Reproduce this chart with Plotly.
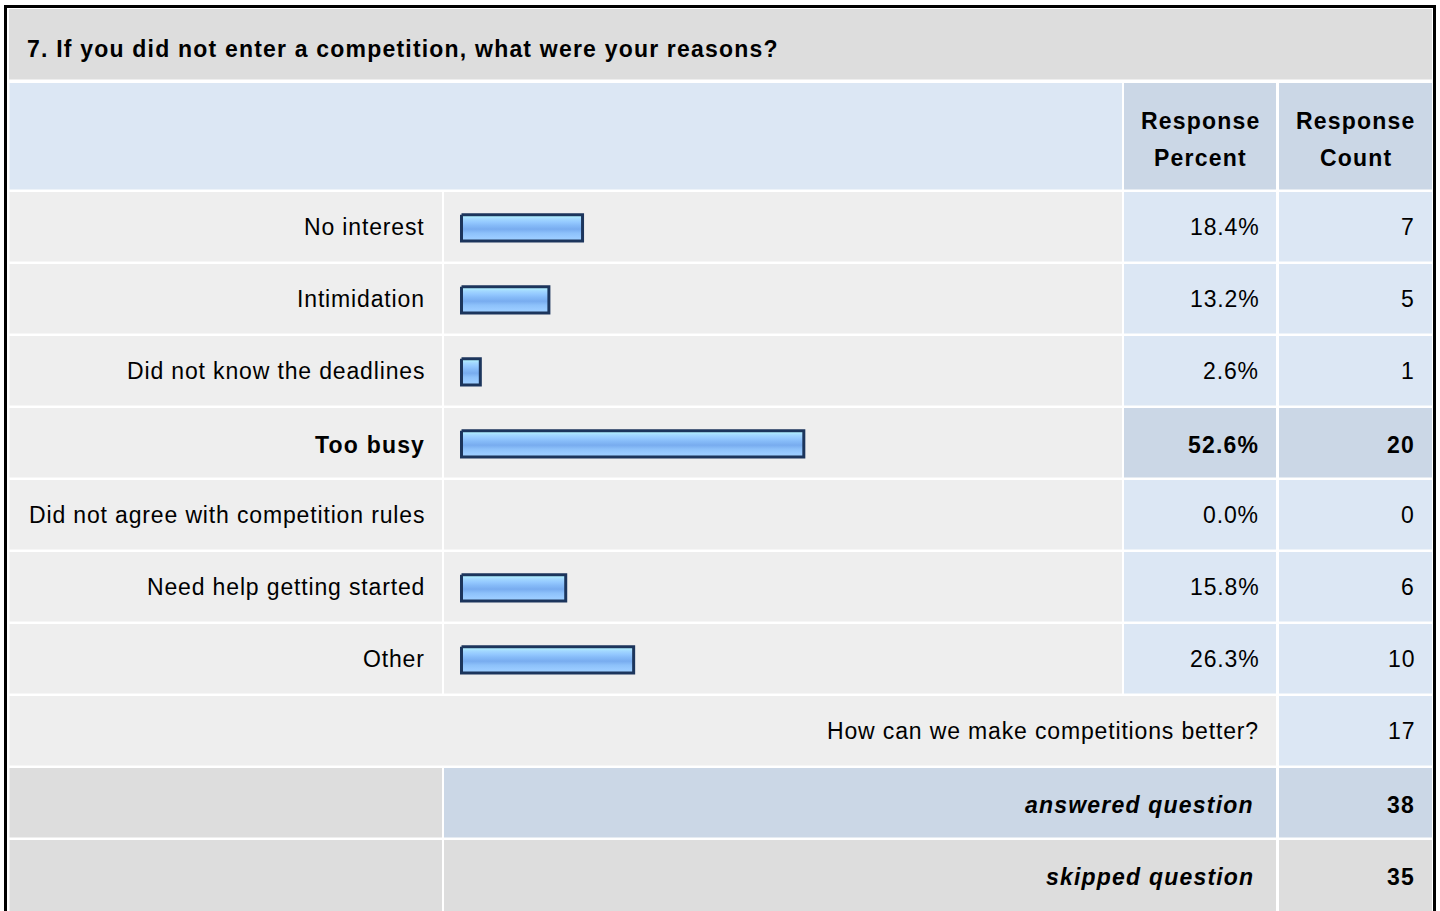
import plotly.graph_objects as go

# ---------------- data ----------------
question = "7. If you did not enter a competition, what were your reasons?"
categories = ["No interest", "Intimidation", "Did not know the deadlines", "Too busy",
              "Did not agree with competition rules", "Need help getting started", "Other"]
percents = [18.4, 13.2, 2.6, 52.6, 0.0, 15.8, 26.3]
counts = [7, 5, 1, 20, 0, 6, 10]
header_percent = ["Response", "Percent"]
header_count = ["Response", "Count"]
open_text_label = "How can we make competitions better?"
open_text_count = 17
answered_label = "answered question"
answered_count = 38
skipped_label = "skipped question"
skipped_count = 35

# ---------------- layout constants (pixels) ----------------
W, H = 1440, 911
ROW0, PITCH, ROWH = 192.0, 72.0, 69.5
C_LABEL = (9.5, 442.0)
C_BAR = (444.0, 1122.0)
C_PCT = (1124.0, 1276.0)
C_CNT = (1279.0, 1432.0)
BAR_ZERO_PX, PX_PER_PCT = 463.5, 6.47

GRAY_TITLE = "#DDDDDD"
ROW_BG = "#EEEEEE"
BLUE_LIGHT = "#DCE7F4"
BLUE_DARK = "#CBD7E6"
FONT = "Liberation Sans, Arial, sans-serif"
FS = 23
SP_REG = 0.85
SP_BOLD = 1.2
BOLD_DY = 2.0  # px: bold text sits slightly lower in the reference

shapes = []
annotations = []


def rect(x0, x1, y0, y1, color):
    shapes.append(dict(type="rect", xref="x", yref="y", x0=x0, x1=x1, y0=y0, y1=y1,
                       fillcolor=color, line=dict(width=0), layer="below"))


def txt(text, x, y, xanchor, bold=False, italic=False, yref="y", size=FS):
    sp = SP_BOLD if bold else SP_REG
    t = f'<span style="letter-spacing:{sp}px">{text}</span>'
    if italic:
        t = f"<i>{t}</i>"
    if bold:
        t = f"<b>{t}</b>"
    xs = x + (2 if xanchor == "right" else (sp / 2 if xanchor == "center" else 0))
    if bold:
        y = y + (BOLD_DY / PITCH if yref == "y2" else BOLD_DY)
    annotations.append(dict(text=t, x=xs, y=y, xref="x", yref=yref, xanchor=xanchor,
                            yanchor="middle", showarrow=False,
                            font=dict(family=FONT, size=size, color="#000000")))


def row_top(i):
    return ROW0 + PITCH * i


# title row
rect(9.0, 1432.0, 9.0, 79.5, GRAY_TITLE)
txt(question, 25, 46.5, "left", bold=True)

# header row
rect(9.5, 1122.0, 83.0, 189.5, BLUE_LIGHT)
rect(C_PCT[0], C_PCT[1], 83.0, 189.5, BLUE_DARK)
rect(C_CNT[0], C_CNT[1], 83.0, 189.5, BLUE_DARK)
for k, (a, b) in enumerate(zip(header_percent, header_count)):
    yy = 118.5 + 37 * k
    txt(a, (C_PCT[0] + C_PCT[1]) / 2, yy, "center", bold=True)
    txt(b, (C_CNT[0] + C_CNT[1]) / 2, yy, "center", bold=True)

# answer rows
max_count = max(counts)
for i, (cat, p, c) in enumerate(zip(categories, percents, counts)):
    top = row_top(i)
    hi = c == max_count
    rect(C_LABEL[0], C_LABEL[1], top, top + ROWH, ROW_BG)
    rect(C_BAR[0], C_BAR[1], top, top + ROWH, ROW_BG)
    rect(C_PCT[0], C_PCT[1], top, top + ROWH, BLUE_DARK if hi else BLUE_LIGHT)
    rect(C_CNT[0], C_CNT[1], top, top + ROWH, BLUE_DARK if hi else BLUE_LIGHT)
    txt(cat, 425, i, "right", bold=hi, yref="y2")
    txt(f"{p:.1f}%", 1259, i, "right", bold=hi, yref="y2")
    txt(f"{c}", 1415, i, "right", bold=hi, yref="y2")

n = len(categories)
# open text row
top = row_top(n)
rect(9.5, C_PCT[1], top, top + ROWH, ROW_BG)
rect(C_CNT[0], C_CNT[1], top, top + ROWH, BLUE_LIGHT)
txt(open_text_label, 1259, n, "right", yref="y2")
txt(f"{open_text_count}", 1415, n, "right", yref="y2")

# answered row
top = row_top(n + 1)
rect(C_LABEL[0], C_LABEL[1], top, top + ROWH, GRAY_TITLE)
rect(C_BAR[0], C_PCT[1], top, top + ROWH, BLUE_DARK)
rect(C_CNT[0], C_CNT[1], top, top + ROWH, BLUE_DARK)
txt(answered_label, 1254, n + 1, "right", bold=True, italic=True, yref="y2")
txt(f"{answered_count}", 1415, n + 1, "right", bold=True, yref="y2")

# skipped row
top = row_top(n + 2)
rect(C_LABEL[0], C_LABEL[1], top, top + ROWH + 20, GRAY_TITLE)
rect(C_BAR[0], C_PCT[1], top, top + ROWH + 20, GRAY_TITLE)
rect(C_CNT[0], C_CNT[1], top, top + ROWH + 20, GRAY_TITLE)
txt(skipped_label, 1254, n + 2, "right", bold=True, italic=True, yref="y2")
txt(f"{skipped_count}", 1415, n + 2, "right", bold=True, yref="y2")

# outer black frame
shapes.append(dict(type="rect", xref="x", yref="y", x0=5.5, x1=1434.5, y0=6.5, y1=940,
                   line=dict(color="#000000", width=3), fillcolor="rgba(0,0,0,0)", layer="above"))

# ---------------- bars (drawn on percent axis x2 / row axis y2) ----------------
BAR_HALF = 13.1 / PITCH
BAR_SHIFT = 1.15 / PITCH
BASE = -2.0 / PX_PER_PCT
grad = [[0.0, "#A0D0FF"], [0.15, "#98CAFF"], [0.3, "#8DC1FA"], [0.45, "#78ACEF"],
        [0.6, "#86BBF8"], [0.72, "#94C9FF"], [0.85, "#A4D9FF"], [1.0, "#B8FFFF"]]

fig = go.Figure()
for i, p in enumerate(percents):
    if p <= 0:
        continue
    yc = i + BAR_SHIFT
    fig.add_trace(go.Scatter(
        x=[BASE, p, p, BASE, BASE],
        y=[yc - BAR_HALF, yc - BAR_HALF, yc + BAR_HALF, yc + BAR_HALF, yc - BAR_HALF],
        xaxis="x2", yaxis="y2", mode="lines", fill="toself",
        fillgradient=dict(type="vertical", colorscale=grad),
        line=dict(color="#1C355C", width=3), hoverinfo="skip", showlegend=False))

row_center0 = ROW0 + ROWH / 2
x2_lo = (C_BAR[0] - BAR_ZERO_PX) / PX_PER_PCT
x2_hi = (C_BAR[1] - BAR_ZERO_PX) / PX_PER_PCT
fig.update_layout(
    width=W, height=H, margin=dict(l=0, r=0, t=0, b=0),
    paper_bgcolor="#FFFFFF", plot_bgcolor="rgba(0,0,0,0)",
    xaxis=dict(range=[0, W], domain=[0, 1], visible=False, fixedrange=True),
    yaxis=dict(range=[H, 0], domain=[0, 1], visible=False, fixedrange=True),
    xaxis2=dict(range=[x2_lo, x2_hi], domain=[C_BAR[0] / W, C_BAR[1] / W],
                anchor="y2", visible=False, fixedrange=True),
    yaxis2=dict(range=[(H - row_center0) / PITCH, -row_center0 / PITCH], domain=[0, 1],
                anchor="x2", visible=False, fixedrange=True),
    shapes=shapes, annotations=annotations, showlegend=False,
)

fig.write_html("out.html", config={"displayModeBar": False})
